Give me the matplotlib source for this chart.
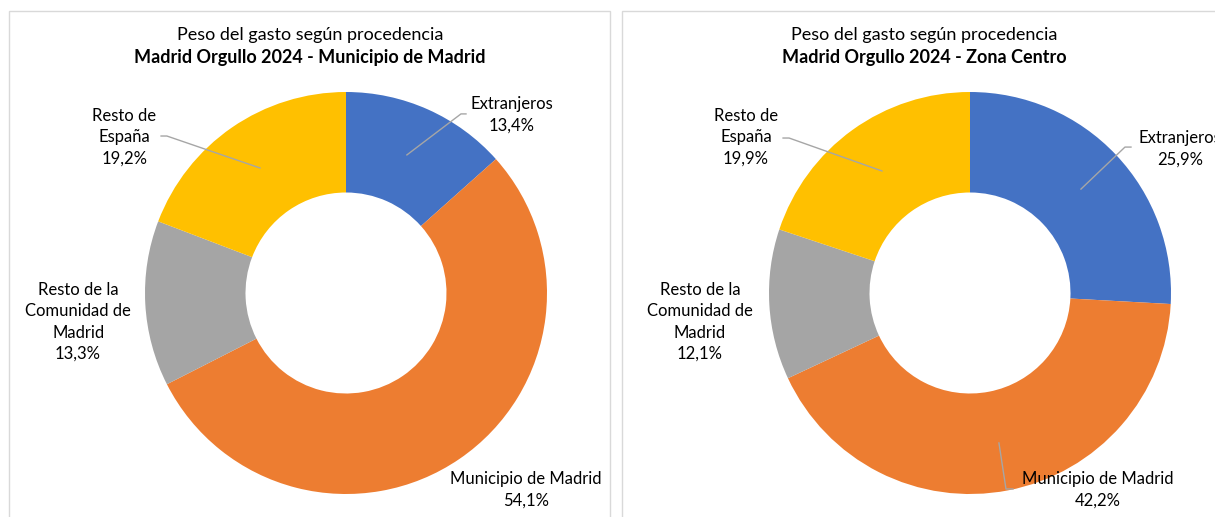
import matplotlib
matplotlib.use("Agg")
import matplotlib.pyplot as plt
from matplotlib.patches import Rectangle

plt.rcParams['font.family'] = ['Lato', 'DejaVu Sans']

categories = ["Extranjeros", "Municipio de Madrid", "Resto de la\nComunidad de\nMadrid", "Resto de\nEspaña"]
colors = ["#4472C4", "#ED7D31", "#A5A5A5", "#FFC000"]

titles = ["Madrid Orgullo 2024 - Municipio de Madrid", "Madrid Orgullo 2024 - Zona Centro"]
municipio = [13.4, 54.1, 13.3, 19.2]
centro = [25.9, 42.2, 12.1, 19.9]

# label centres and leader lines, in pie units (radius 1)
label_pos = [
    [(0.826, 0.886), (0.896, -0.980), (-1.333, -0.144), (-1.104, 0.776)],
    [(1.045, 0.716), (0.637, -0.980), (-1.343, -0.144), (-1.114, 0.776)],
]
leaders = [
    [[(0.303, 0.687), (0.572, 0.891), (0.597, 0.891)],
     [(-0.428, 0.622), (-0.891, 0.781), (-0.920, 0.781)]],
    [[(0.552, 0.517), (0.771, 0.726), (0.801, 0.726)],
     [(-0.438, 0.607), (-0.900, 0.771), (-0.930, 0.771)],
     [(0.144, -0.746), (0.179, -0.975), (0.214, -0.975)]],
]

W, H = 1215, 517
fig = plt.figure(figsize=(W / 100, H / 100), dpi=100)

# panel frames
for x0, x1 in [(9, 610), (622, 1230)]:
    fig.patches.append(Rectangle((x0 / W, -0.1), (x1 - x0) / W, (H - 11) / H + 0.1,
                                 transform=fig.transFigure, fill=False,
                                 edgecolor="#D9D9D9", lw=1))

centres_x = [346, 970]
title_x = [310, 924]
R = 201
cy = 293
for i, vals in enumerate([municipio, centro]):
    ax = fig.add_axes([(centres_x[i] - R) / W, (H - cy - R) / H, 2 * R / W, 2 * R / H])
    ax.pie(vals, colors=colors, startangle=90, counterclock=False,
           wedgeprops=dict(width=0.5, linewidth=0))
    ax.set_xlim(-1, 1)
    ax.set_ylim(-1, 1)
    ax.set_aspect('equal')
    ax.axis('off')
    for line in leaders[i]:
        xs = [p[0] for p in line]
        ys = [p[1] for p in line]
        ax.plot(xs, ys, color="#A6A6A6", lw=1, clip_on=False)
    for j, cat in enumerate(categories):
        pct = f"{vals[j]:.1f}%".replace('.', ',')
        lx, ly = label_pos[i][j]
        ax.text(lx, ly, f"{cat}\n{pct}", ha='center', va='center', fontsize=12,
                linespacing=1.4, color="#000000", clip_on=False)
    fig.text(title_x[i] / W, 1 - 35 / H, "Peso del gasto según procedencia",
             ha='center', va='center', fontsize=13)
    fig.text(title_x[i] / W, 1 - 57 / H, titles[i], ha='center', va='center',
             fontsize=13, fontweight='bold')

fig.savefig("out.png", dpi=100)
